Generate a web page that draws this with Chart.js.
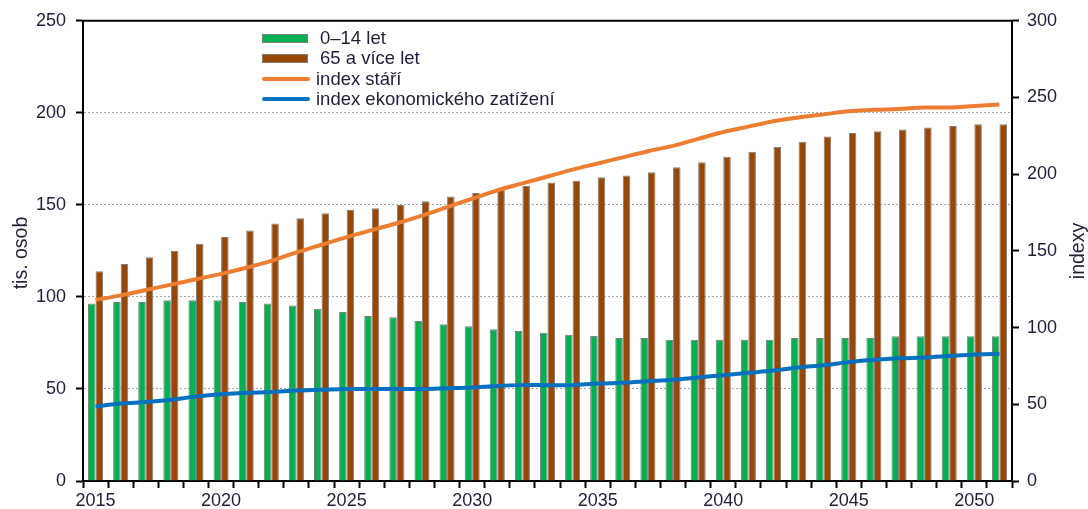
<!DOCTYPE html>
<html>
<head>
<meta charset="utf-8">
<script src="https://cdn.jsdelivr.net/npm/chart.js@4.4.0/dist/chart.umd.min.js"></script>
<style>
    body { margin: 0; background: #fff; }
    #wrap { position: relative; width: 1088px; height: 509px; }
    #legend {
        position: absolute; left: 262px; top: 28px;
        font-family: "Liberation Sans", Arial, sans-serif;
        font-size: 18.5px; color: #1f1f3a;
    }
    .row { height: 20.3px; display: flex; align-items: center; white-space: nowrap; }
    .box { width: 46px; height: 9px; border: 1px solid #7f7f7f; margin-right: 12px; box-sizing: border-box; }
    .ln { width: 48px; height: 4px; border-radius: 2px; margin-right: 6px; }
    .axt {
        position: absolute; width: 120px; height: 24px; line-height: 24px; text-align: center;
        font-family: "Liberation Sans", Arial, sans-serif; font-size: 19.5px; color: #1f1f3a;
        transform: rotate(-90deg); white-space: nowrap;
    }
</style>
</head>
<body>
<div id="wrap">
    <canvas id="chart" width="1088" height="509"></canvas>
    <div id="legend">
        <div class="row"><span class="box" style="background:#00b050"></span>0–14 let</div>
        <div class="row"><span class="box" style="background:#974706"></span>65 a více let</div>
        <div class="row"><span class="ln" style="background:#ed7d31"></span>index stáří</div>
        <div class="row"><span class="ln" style="background:#0070c0"></span>index ekonomického zatížení</div>
    </div>
    <div class="axt" style="left:-40px; top:241px;">tis. osob</div>
    <div class="axt" style="left:1017px; top:239px;">indexy</div>
</div>
<script>
const years = ["2015","2016","2017","2018","2019","2020","2021","2022","2023","2024",
    "2025","2026","2027","2028","2029","2030","2031","2032","2033","2034",
    "2035","2036","2037","2038","2039","2040","2041","2042","2043","2044",
    "2045","2046","2047","2048","2049","2050","2051"];

// tis. osob
const kids = [96.4, 97.2, 97.2, 98.2, 98.2, 98.2, 97.2, 96.4, 95.4, 93.6,
    91.8, 89.7, 88.9, 86.9, 85.1, 84.1, 82.4, 81.5, 80.6, 79.5,
    78.8, 77.7, 77.7, 76.8, 76.8, 76.8, 76.8, 76.8, 77.7, 77.7,
    77.7, 77.7, 78.6, 78.6, 78.6, 78.6, 78.6];
const seniors = [114, 117.9, 121.5, 125.1, 128.9, 132.5, 136.1, 139.9, 142.8, 145.5,
    147.3, 148.2, 150, 152, 154.6, 156.5, 158.4, 160.3, 162.1, 163.1,
    165, 165.9, 167.7, 170.4, 173.2, 176.1, 178.8, 181.5, 184.3, 187.2,
    189, 190, 191, 192, 192.8, 193.8, 193.8];

// indexy
const ageIndex = [118, 121, 124.5, 128, 131.5, 135, 139, 143.5, 149, 154,
    159, 163.5, 168, 173, 178.5, 184, 189.5, 194, 198.5, 203,
    207, 211, 215, 218.5, 223, 227.5, 231, 234.5, 237, 239,
    241, 242, 242.5, 243.5, 243.5, 244.5, 245.5];
const dependencyIndex = [48.5, 50.5, 51.5, 53, 55, 56.5, 57.5, 58, 59, 59.5,
    60, 60, 60, 60, 60.5, 61, 62, 62.5, 62.5, 62.5,
    63.5, 64, 65, 66, 67.5, 69, 70.5, 72, 74, 75.5,
    77.5, 79, 80, 80.5, 81.5, 82.5, 83];

const font = { family: "'Liberation Sans', Arial, sans-serif", size: 18 };
const textColor = "#1f1f3a";

// top edge of the plot frame
const frame = {
    id: "frame",
    afterDatasetsDraw(chart) {
        const a = chart.chartArea;
        const c = chart.ctx;
        c.save();
        c.strokeStyle = "#000";
        c.lineWidth = 2;
        c.beginPath();
        c.moveTo(a.left - 1, a.top);
        c.lineTo(a.right + 1, a.top);
        c.stroke();
        c.restore();
    }
};

new Chart(document.getElementById("chart"), {
    type: "bar",
    data: {
        labels: years,
        datasets: [
            {
                label: "index stáří",
                type: "line",
                data: ageIndex,
                yAxisID: "y2",
                borderColor: "#ed7d31",
                borderWidth: 4,
                pointRadius: 0,
                tension: 0.3,
                order: 0
            },
            {
                label: "index ekonomického zatížení",
                type: "line",
                data: dependencyIndex,
                yAxisID: "y2",
                borderColor: "#0070c0",
                borderWidth: 4,
                pointRadius: 0,
                tension: 0.3,
                order: 0
            },
            {
                label: "0–14 let",
                data: kids,
                yAxisID: "y",
                backgroundColor: "#00b050",
                borderColor: "#7f7f7f",
                borderWidth: 1,
                categoryPercentage: 0.6,
                barPercentage: 1,
                order: 1
            },
            {
                label: "65 a více let",
                data: seniors,
                yAxisID: "y",
                backgroundColor: "#974706",
                borderColor: "#7f7f7f",
                borderWidth: 1,
                categoryPercentage: 0.6,
                barPercentage: 1,
                order: 1
            }
        ]
    },
    options: {
        responsive: false,
        animation: false,
        layout: { padding: { top: 20, left: 0, right: 0, bottom: 0 } },
        plugins: {
            legend: { display: false },
            tooltip: { enabled: false }
        },
        scales: {
            x: {
                offset: true,
                grid: {
                    offset: true,
                    drawOnChartArea: false,
                    tickLength: 7,
                    tickColor: "#000",
                    tickWidth: 2
                },
                border: { color: "#000", width: 2 },
                ticks: {
                    autoSkip: false,
                    maxRotation: 0,
                    padding: 2,
                    color: textColor,
                    font: font,
                    callback: function(v, i) {
                        return Number(years[i]) % 5 === 0 ? years[i] : "";
                    }
                },
                afterFit: s => { s.height = 28; }
            },
            y: {
                position: "left",
                min: 0,
                max: 250,
                ticks: { stepSize: 50, color: textColor, font: font, padding: 10 },
                grid: {
                    color: "#a6a6a6",
                    lineWidth: 1,
                    tickLength: 7,
                    tickColor: "#000",
                    tickWidth: 2,
                    tickBorderDash: []
                },
                border: { color: "#000", width: 2, dash: [2, 2] },
                afterFit: s => { s.width = 83; }
            },
            y2: {
                position: "right",
                min: 0,
                max: 300,
                ticks: { stepSize: 50, color: textColor, font: font, padding: 8 },
                grid: {
                    drawOnChartArea: false,
                    tickLength: 7,
                    tickColor: "#000",
                    tickWidth: 2
                },
                border: { color: "#000", width: 2 },
                afterFit: s => { s.width = 76; }
            }
        }
    },
    plugins: [frame]
});
</script>
</body>
</html>
